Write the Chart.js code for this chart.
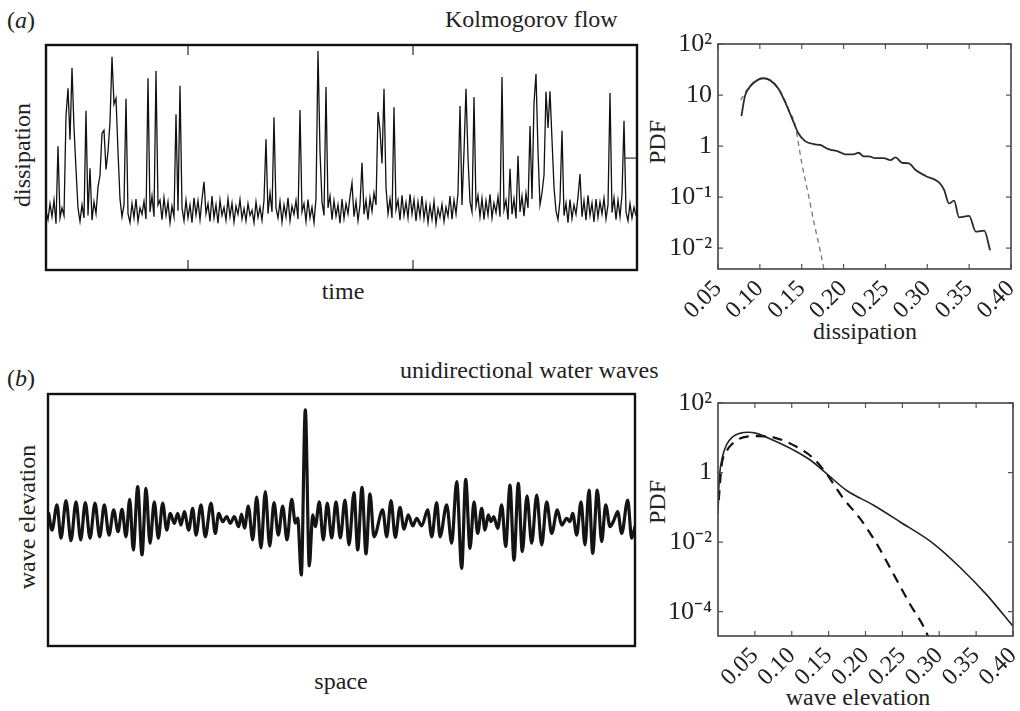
<!DOCTYPE html>
<html>
<head>
<meta charset="utf-8">
<script src="https://cdn.jsdelivr.net/npm/chart.js@4.4.1/dist/chart.umd.min.js"></script>
<style>
  body { margin: 0; background: #fff; width: 1020px; height: 711px; position: relative; overflow: hidden;
         font-family: "Liberation Serif", "Times New Roman", serif; color: #222; }
  canvas { position: absolute; }
  .lbl { position: absolute; font-size: 24px; line-height: 24px; white-space: nowrap; }
  .ctr { transform: translate(-50%, -50%); }
  .rot { transform: translate(-50%, -50%) rotate(-90deg); }
</style>
</head>
<body>

<div class="lbl" style="left:7px;top:8px">(<i>a</i>)</div>
<div class="lbl" style="left:445px;top:7px">Kolmogorov flow</div>
<div class="lbl rot" style="left:22px;top:155px">dissipation</div>
<div class="lbl ctr" style="left:343px;top:291px">time</div>
<div class="lbl rot" style="left:657px;top:142px">PDF</div>
<div class="lbl ctr" style="left:865px;top:331px">dissipation</div>

<div class="lbl" style="left:7px;top:366px">(<i>b</i>)</div>
<div class="lbl" style="left:400px;top:358px">unidirectional water waves</div>
<div class="lbl rot" style="left:27px;top:517px">wave elevation</div>
<div class="lbl ctr" style="left:341px;top:681px">space</div>
<div class="lbl rot" style="left:657px;top:502px">PDF</div>
<div class="lbl ctr" style="left:858px;top:697px">wave elevation</div>

<canvas id="timeA" width="595" height="229" style="left:44px;top:43px"></canvas>
<canvas id="pdfA" width="380" height="330" style="left:640px;top:30px"></canvas>
<canvas id="waveB" width="591" height="256" style="left:46px;top:392px"></canvas>
<canvas id="pdfB" width="380" height="321" style="left:640px;top:390px"></canvas>

<script>
// ---- (a) Kolmogorov flow: dissipation time series, one sample per time step
const dissipation = [
  0.100,0.085,0.112,0.090,0.118,0.078,0.209,0.088,0.105,0.092,0.260,0.307,0.220,0.341,0.240,0.170,0.105,0.082,0.110,0.088,
  0.269,0.092,0.172,0.084,0.115,0.095,0.140,0.160,0.231,0.236,0.170,0.200,0.250,0.360,0.280,0.290,0.200,0.120,0.090,0.110,
  0.289,0.095,0.080,0.112,0.088,0.120,0.082,0.105,0.094,0.116,0.086,0.324,0.098,0.125,0.090,0.336,0.110,0.118,0.085,0.122,
  0.092,0.115,0.080,0.108,0.090,0.263,0.100,0.311,0.105,0.083,0.118,0.088,0.110,0.080,0.122,0.093,0.117,0.085,0.120,0.149,
  0.095,0.112,0.082,0.125,0.088,0.110,0.079,0.118,0.092,0.106,0.084,0.120,0.090,0.113,0.081,0.108,0.094,0.119,0.086,0.104,
  0.083,0.112,0.092,0.101,0.080,0.115,0.089,0.106,0.084,0.118,0.221,0.095,0.130,0.098,0.258,0.105,0.088,0.116,0.081,0.110,
  0.090,0.122,0.083,0.108,0.094,0.117,0.086,0.270,0.098,0.112,0.082,0.119,0.088,0.106,0.080,0.121,0.370,0.200,0.115,0.092,
  0.309,0.105,0.125,0.085,0.117,0.091,0.110,0.079,0.120,0.087,0.112,0.095,0.124,0.147,0.090,0.116,0.083,0.110,0.181,0.094,
  0.118,0.085,0.122,0.099,0.130,0.110,0.267,0.236,0.180,0.306,0.140,0.095,0.120,0.088,0.275,0.102,0.118,0.084,0.126,0.092,
  0.114,0.088,0.128,0.095,0.119,0.083,0.115,0.090,0.125,0.087,0.112,0.080,0.109,0.086,0.116,0.078,0.104,0.089,0.111,0.082,
  0.106,0.091,0.125,0.086,0.118,0.095,0.130,0.277,0.110,0.200,0.306,0.190,0.115,0.098,0.292,0.108,0.126,0.090,0.121,0.085,
  0.117,0.093,0.128,0.088,0.113,0.097,0.124,0.090,0.326,0.102,0.118,0.085,0.171,0.094,0.120,0.087,0.193,0.098,0.125,0.091,
  0.130,0.105,0.243,0.120,0.282,0.331,0.200,0.110,0.130,0.160,0.301,0.240,0.302,0.220,0.140,0.100,0.085,0.118,0.235,0.092,
  0.113,0.080,0.119,0.087,0.110,0.094,0.123,0.162,0.090,0.117,0.084,0.126,0.092,0.113,0.081,0.120,0.089,0.115,0.095,0.121,
  0.086,0.110,0.299,0.097,0.122,0.085,0.118,0.090,0.128,0.252,0.098,0.083,0.112,0.088,0.106,0.092
];
const timeTicks = [71, 183.5];
const tailT = [289.5, 295.5];
const tailV = [0.189, 0.189];

// ---- (a) PDF of dissipation (solid) and gaussian fit (dashed)
const pdfDissX = [0.078,0.082,0.085,0.092,0.104,0.112,0.122,0.130,0.140,0.146,0.154,0.166,0.172,0.182,0.194,0.202,0.212,0.218,0.224,
  0.230,0.238,0.248,0.256,0.262,0.270,0.278,0.286,0.298,0.314,0.320,0.326,0.332,0.338,0.350,0.358,0.368,0.375];
const pdfDissY = [3.87,9.3,12.2,17,21.3,19.6,13.5,7.4,3.0,1.78,1.25,1.08,1.05,0.87,0.78,0.69,0.69,0.74,0.63,
  0.63,0.58,0.58,0.53,0.60,0.47,0.46,0.34,0.26,0.195,0.14,0.075,0.085,0.040,0.043,0.021,0.022,0.0091];
const gaussDissX = [0.077,0.085,0.095,0.105,0.115,0.125,0.135,0.142,0.150,0.158,0.165,0.172,0.180];
const gaussDissY = [7.9,13,19,21,18,11.5,5,2.6,0.47,0.11,0.03,0.009,0.002];
const dissTicks = [0.05,0.10,0.15,0.20,0.25,0.30,0.35,0.40];
const dissPdfTicks = [100,10,1,0.1,0.01];
const dissPdfLabels = ['10²','10','1','10⁻¹','10⁻²'];

// ---- (b) unidirectional water waves: elevation along space (crests and troughs)
const spaceX = [0.7,4,9,13,18,23,28,32.7,37.3,42,47,51.7,56.3,61,65.7,70,74,78,81.7,85.3,
  89.7,94,98,102,106.3,110.3,114.7,118.7,122.3,126.3,129.7,133,136.3,140.7,144.7,148,153,157.3,163,167.3,
  170.7,174.7,178.7,182.3,186.3,190.7,193.5,196.5,200.3,204.7,208.7,213,217.3,221.7,226,230.3,234.7,239,243.7,247.3,
  249.7,253.3,257.3,261.3,264.7,267.3,271.3,275.3,279.3,283.7,288,292.3,297,301,306,309.7,314,318,322,326,
  334.7,338.7,343,347.3,352,356,360.3,364.7,368.7,373.7,379.7,383.7,388.7,392,398.7,403.7,408.7,413.7,417.7,422,
  426,429.7,433.7,437,440.3,443,445.7,449.7,453.7,457.7,462,466,470.3,474.3,479,483.7,488.7,493.7,498.7,503.7,
  509.3,513.7,518.7,522,524.7,528.7,533,537,541,544.7,549.3,553.7,557.7,562,566,569.7,573.7,579.7,583.7,587];
const elevation = [0.024,-0.036,0.054,-0.065,0.069,-0.074,0.065,-0.071,0.062,-0.065,0.060,-0.060,0.054,-0.054,0.036,-0.042,0.038,-0.060,0.074,-0.107,
  0.119,-0.125,0.113,-0.083,0.065,-0.065,0.060,-0.036,0.024,-0.012,0.024,-0.018,0.030,-0.036,0.042,-0.054,0.054,-0.060,0.060,-0.048,
  0.024,-0.006,0.012,-0.012,0.012,-0.024,0.021,-0.029,0.050,-0.071,0.082,-0.100,0.101,-0.093,0.062,-0.054,0.050,-0.071,0.074,-0.011,
  0.007,-0.196,0.393,-0.164,0.018,-0.024,0.065,-0.071,0.060,-0.064,0.065,-0.064,0.071,-0.089,0.098,-0.107,0.117,-0.121,0.093,-0.060,
  0.036,-0.060,0.069,-0.062,0.045,-0.033,0.018,-0.021,0.006,-0.021,0.036,-0.060,0.062,-0.060,0.054,-0.083,0.137,-0.173,0.145,-0.101,
  0.065,-0.048,0.042,-0.036,0.018,-0.006,0.012,-0.030,0.054,-0.095,0.125,-0.143,0.131,-0.113,0.086,-0.083,0.089,-0.089,0.065,-0.048,
  0.036,-0.018,0.006,-0.006,0.024,-0.054,0.065,-0.089,0.107,-0.119,0.107,-0.077,0.054,-0.024,0.000,0.030,-0.048,0.071,-0.065,-0.024];

// ---- (b) PDF of wave elevation (solid) and gaussian-sea reference (dashed)
const pdfWaveX = [0,0.001,0.0023,0.006,0.0114,0.020,0.0295,0.041,0.052,0.075,0.102,0.125,0.1495,0.174,0.211,0.247,0.292,0.328,0.365,0.40];
const pdfWaveY = [0.066,0.31,0.93,2.8,6.2,10.7,13.4,14.4,13.4,8.5,4.5,2.3,0.85,0.31,0.115,0.038,0.0091,0.0019,0.000295,0.000038];
const gaussWaveX = [0.001,0.0046,0.0114,0.020,0.034,0.052,0.075,0.1065,0.129,0.147,0.17,0.1925,0.215,0.238,0.26,0.281,0.29];
const gaussWaveY = [0.16,1.45,4,6.9,10.3,11.2,10.3,5.5,2.6,0.93,0.18,0.048,0.0091,0.0012,0.00017,0.00003,0.00001];
const waveTicks = [0.05,0.10,0.15,0.20,0.25,0.30,0.35,0.40];
const wavePdfTicks = [100,1,0.01,0.0001];
const wavePdfLabels = ['10²','1','10⁻²','10⁻⁴'];


Chart.defaults.font.family = "'Liberation Serif', 'Times New Roman', serif";
Chart.defaults.color = '#222';
Chart.defaults.animation = false;
Chart.defaults.plugins.legend.display = false;
Chart.defaults.plugins.tooltip.enabled = false;
Chart.defaults.elements.point.radius = 0;

const pairs = (xs, ys) => xs.map((x, i) => ({x: x, y: ys[i]}));

// frame + inward tick marks on all sides (MATLAB look)
const innerTicks = {
  id: 'innerTicks',
  afterDraw(chart, args, o) {
    const {ctx, chartArea: a, scales} = chart;
    ctx.save();
    ctx.strokeStyle = o.color;
    ctx.lineWidth = o.width;
    ctx.beginPath();
    (o.x || []).forEach(v => {
      const px = scales.x.getPixelForValue(v);
      ctx.moveTo(px, a.bottom); ctx.lineTo(px, a.bottom - o.len);
      ctx.moveTo(px, a.top); ctx.lineTo(px, a.top + o.len);
    });
    (o.y || []).forEach(v => {
      const py = scales.y.getPixelForValue(v);
      ctx.moveTo(a.left, py); ctx.lineTo(a.left + o.len, py);
      ctx.moveTo(a.right, py); ctx.lineTo(a.right - o.len, py);
    });
    ctx.stroke();
    ctx.strokeStyle = o.frameColor;
    ctx.lineWidth = o.frame;
    ctx.strokeRect(a.left, a.top, a.width, a.height);
    ctx.restore();
  }
};

function tracePanel(id, datasets, xmin, xmax, ymin, ymax, ticks) {
  return new Chart(document.getElementById(id), {
    type: 'line',
    data: { datasets: datasets },
    options: {
      responsive: false,
      layout: { padding: 2 },
      scales: {
        x: { type: 'linear', display: false, min: xmin, max: xmax },
        y: { type: 'linear', display: false, min: ymin, max: ymax }
      },
      plugins: {
        innerTicks: { x: ticks, y: [], len: 10, width: 1.5, color: '#555', frame: 2.4, frameColor: '#111' }
      }
    },
    plugins: [innerTicks]
  });
}

function pdfPanel(id, datasets, xTicks, yTicks, yLabels, xmin, ymin, pad, xHeight) {
  return new Chart(document.getElementById(id), {
    type: 'line',
    data: { datasets: datasets },
    options: {
      responsive: false,
      layout: { padding: pad },
      scales: {
        x: {
          type: 'linear', min: xmin, max: 0.40,
          grid: { display: false, drawTicks: false }, border: { display: false },
          afterBuildTicks: s => { s.ticks = xTicks.map(v => ({value: v})); },
          afterFit: s => { s.height = xHeight; s.paddingLeft = 0; s.paddingRight = 0; },
          ticks: {
            autoSkip: false, minRotation: 45, maxRotation: 45, padding: 6,
            font: { size: 24 }, color: '#222',
            callback: v => Number(v).toFixed(2)
          }
        },
        y: {
          type: 'logarithmic', min: ymin, max: 100,
          grid: { display: false, drawTicks: false }, border: { display: false },
          afterBuildTicks: s => { s.ticks = yTicks.map(v => ({value: v})); },
          afterFit: s => { s.width = 80 - (pad.left || 0) - 2; s.paddingTop = 0; s.paddingBottom = 0; },
          ticks: { padding: 6, font: { size: 26 }, color: '#222', callback: (v, i) => yLabels[i] }
        }
      },
      plugins: {
        innerTicks: { x: xTicks, y: yTicks, len: 5, width: 1.2, color: '#555', frame: 1.6, frameColor: '#444' }
      }
    },
    plugins: [innerTicks]
  });
}

// (a) time series
tracePanel('timeA', [
  { data: dissipation.map((v, i) => ({x: i, y: v})), borderColor: '#111', borderWidth: 1.3, tension: 0 },
  { data: pairs(tailT, tailV), borderColor: '#333', borderWidth: 1.2 }
], 0, 295.5, 0, 0.38, timeTicks);

// (a) pdf
pdfPanel('pdfA', [
  { data: pairs(pdfDissX, pdfDissY), borderColor: '#2a2a2a', borderWidth: 1.8, cubicInterpolationMode: 'monotone' },
  { data: pairs(gaussDissX, gaussDissY), borderColor: '#777', borderWidth: 1.3, borderDash: [5, 4], cubicInterpolationMode: 'monotone' }
], dissTicks, dissPdfTicks, dissPdfLabels, 0.05, 0.0039, { left: 0, right: 9, top: 14, bottom: 0 }, 91);

// (b) wave record
tracePanel('waveB', [
  { data: pairs(spaceX, elevation), borderColor: '#141414', borderWidth: 3.2, cubicInterpolationMode: 'monotone',
    borderJoinStyle: 'round', borderCapStyle: 'round' }
], 0, 587, -0.45, 0.45, []);

// (b) pdf
pdfPanel('pdfB', [
  { data: pairs(pdfWaveX, pdfWaveY), borderColor: '#222', borderWidth: 1.6, cubicInterpolationMode: 'monotone' },
  { data: pairs(gaussWaveX, gaussWaveY), borderColor: '#111', borderWidth: 2.2, borderDash: [10, 7], cubicInterpolationMode: 'monotone' }
], waveTicks, wavePdfTicks, wavePdfLabels, 0, 0.00002, { left: 0, right: 7, top: 13, bottom: 0 }, 75);
</script>
</body>
</html>
